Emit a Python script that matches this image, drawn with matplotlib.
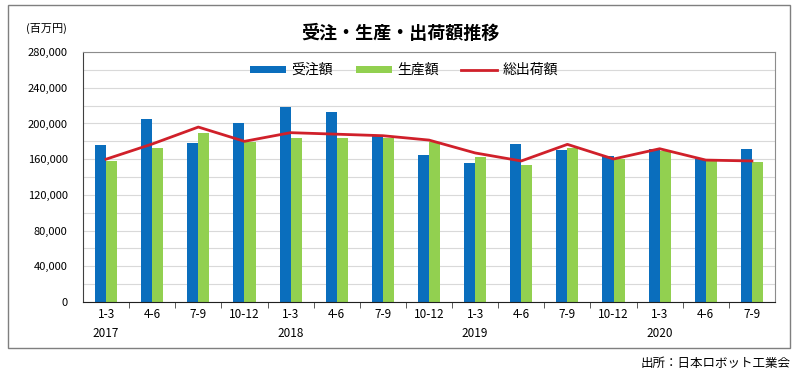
import matplotlib
matplotlib.use("Agg")
import matplotlib.pyplot as plt
import matplotlib.transforms as transforms
from matplotlib.patches import Rectangle
import numpy as np

plt.rcParams['font.family'] = ['Noto Sans CJK JP', 'DejaVu Sans']

quarters = ["1-3", "4-6", "7-9", "10-12", "1-3", "4-6", "7-9", "10-12",
            "1-3", "4-6", "7-9", "10-12", "1-3", "4-6", "7-9"]
years = {0: "2017", 4: "2018", 8: "2019", 12: "2020"}
orders = [176000, 205000, 178000, 200000, 219000, 213000, 186000, 164500,
          155700, 177300, 170200, 163500, 171000, 159800, 171000]
production = [158000, 173000, 189000, 179500, 183700, 183700, 184000, 179500,
              162000, 153400, 172100, 160500, 169500, 158000, 156800]
shipments = [160000, 177000, 196000, 180000, 189700, 188000, 186300, 181400,
             167000, 158000, 176600, 160200, 171700, 159000, 158000]

BLUE = '#0a6ebd'
GREEN = '#92d050'
RED = '#d0202a'

fig = plt.figure(figsize=(8, 3.77), dpi=100)

# outer frame
fig.patches.append(Rectangle((0.01, 0.077), 0.9775, 0.91, transform=fig.transFigure,
                             fill=False, edgecolor='#7f7f7f', linewidth=1.0))

ax = fig.add_axes([0.10375, 0.1989, 0.865, 0.663])
x = np.arange(len(quarters))
w = 0.24
b1 = ax.bar(x - w / 2, orders, w, color=BLUE, label='受注額', zorder=2)
b2 = ax.bar(x + w / 2, production, w, color=GREEN, label='生産額', zorder=2)
l1, = ax.plot(x, shipments, color=RED, linewidth=2.0, label='総出荷額', zorder=3)

ax.set_xlim(-0.5, len(quarters) - 0.5)
ax.set_ylim(0, 280000)
ax.set_yticks(range(0, 280001, 40000))
ax.set_yticklabels([f"{v:,}" for v in range(0, 280001, 40000)], fontsize=8)
ax.set_yticks(range(0, 280001, 20000), minor=True)
ax.grid(axis='y', which='both', color='#d9d9d9', linewidth=0.8, zorder=0)
ax.tick_params(axis='y', which='both', length=0, pad=11)

ax.set_xticks(x)
ax.set_xticklabels(quarters, fontsize=8.5)
ax.set_xticks(np.arange(0.5, len(quarters) - 1, 1), minor=True)
ax.tick_params(axis='x', which='major', length=0, pad=4)
ax.tick_params(axis='x', which='minor', length=4, color='#404040')

for side in ['top', 'right']:
    ax.spines[side].set_color('#8c8c8c')
ax.spines['left'].set_color('#404040')
ax.spines['bottom'].set_color('#202020')

trans = transforms.blended_transform_factory(ax.transData, ax.transAxes)
for i, yr in years.items():
    ax.text(i, -0.125, yr, transform=trans, ha='center', va='center', fontsize=8.5)

ax.legend([b1, b2, l1], ['受注額', '生産額', '総出荷額'], loc='center',
          bbox_to_anchor=(0.464, 0.928), ncol=3, frameon=False,
          fontsize=10, handlelength=2.6, handleheight=0.4, columnspacing=1.6,
          handletextpad=0.4)

fig.text(0.5, 0.912, '受注・生産・出荷額推移', ha='center', va='center',
         fontsize=13, fontweight='bold')
fig.text(0.032, 0.925, '(百万円)', ha='left', va='center', fontsize=8)
fig.text(0.988, 0.037, '出所：日本ロボット工業会', ha='right', va='center', fontsize=9)

fig.savefig('out.png', dpi=100)
